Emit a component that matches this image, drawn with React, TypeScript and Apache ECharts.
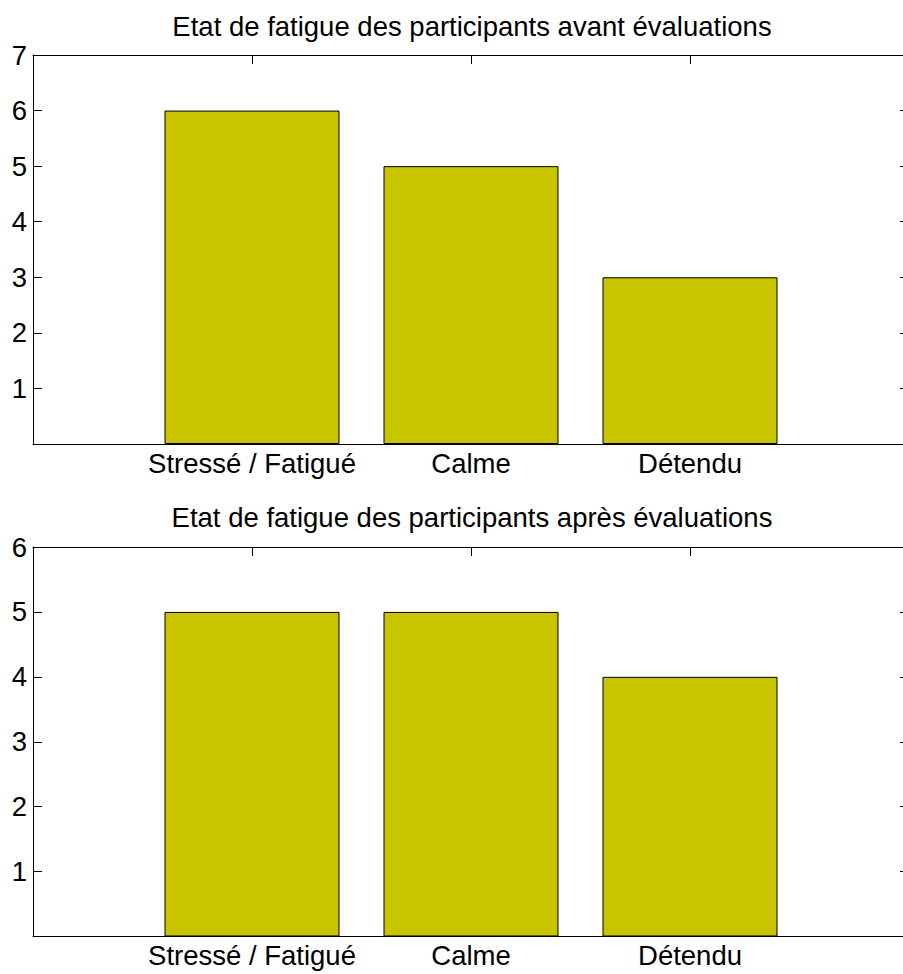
import React, { useEffect, useRef } from "react";
import * as echarts from "echarts";

const categories = ["Stressé / Fatigué", "Calme", "Détendu"];
const avantValues = [6, 5, 3];
const apresValues = [5, 5, 4];
const titles = [
  "Etat de fatigue des participants avant évaluations",
  "Etat de fatigue des participants après évaluations",
];
const yMax = [7, 6];

const FONT = "'Liberation Sans', Arial, Helvetica, sans-serif";
const FS = 27.5;

export default function App() {
  const ref = useRef<HTMLDivElement>(null);
  useEffect(() => {
    if (!ref.current) return;
    const chart = echarts.init(ref.current, undefined, { renderer: "svg" });
    const grids = [
      { left: 33, width: 876, top: 55, height: 389 },
      { left: 33, width: 876, top: 547, height: 389.5 },
    ];
    const lineStyle = { color: "#000", width: 1 };
    const xLabel = (v: number) => {
      const i = Math.round(v) - 1;
      return i >= 0 && i < categories.length ? categories[i] : "";
    };
    const base = {
      type: "value",
      axisLine: { show: true, onZero: false, lineStyle },
      splitLine: { show: false },
      axisTick: { show: true, inside: true, length: 9, lineStyle },
    };
    const xAxis: any[] = [];
    const yAxis: any[] = [];
    grids.forEach((_, g) => {
      xAxis.push({
        ...base, gridIndex: g, position: "bottom", min: 0, max: 4, interval: 1,
        axisLabel: { formatter: xLabel, color: "#000", fontSize: FS, fontFamily: FONT, margin: 5 },
      });
      xAxis.push({
        ...base, gridIndex: g, position: "top", min: 0, max: 4, interval: 1,
        axisLabel: { show: false },
      });
      yAxis.push({
        ...base, gridIndex: g, position: "left", min: 0, max: yMax[g], interval: 1,
        axisLabel: {
          formatter: (v: number) => (v === 0 ? "" : String(v)),
          color: "#000", fontSize: FS, fontFamily: FONT, margin: 6,
        },
      });
      yAxis.push({
        ...base, gridIndex: g, position: "right", min: 0, max: yMax[g], interval: 1,
        axisLabel: { show: false },
      });
    });
    const mk = (vals: number[], g: number) => ({
      type: "bar",
      xAxisIndex: g * 2,
      yAxisIndex: g * 2,
      barWidth: 175,
      data: vals.map((v, i) => [i + 1, v]),
      itemStyle: { color: "#c8c400", borderColor: "#000", borderWidth: 1 },
      silent: true,
    });
    chart.setOption({
      animation: false,
      backgroundColor: "#fff",
      title: titles.map((t, i) => ({
        text: t,
        left: 467,
        top: i === 0 ? 7 : 498,
        textAlign: "center",
        textStyle: { color: "#000", fontSize: FS, fontWeight: "normal", fontFamily: FONT },
      })),
      grid: grids,
      xAxis,
      yAxis,
      series: [mk(avantValues, 0), mk(apresValues, 1)],
    });
    return () => chart.dispose();
  }, []);
  return (
    <div
      style={{
        position: "absolute", left: 0, top: 0, width: 903, height: 974,
        overflow: "hidden", background: "#fff",
      }}
    >
      <div ref={ref} style={{ width: 920, height: 974 }} />
    </div>
  );
}
